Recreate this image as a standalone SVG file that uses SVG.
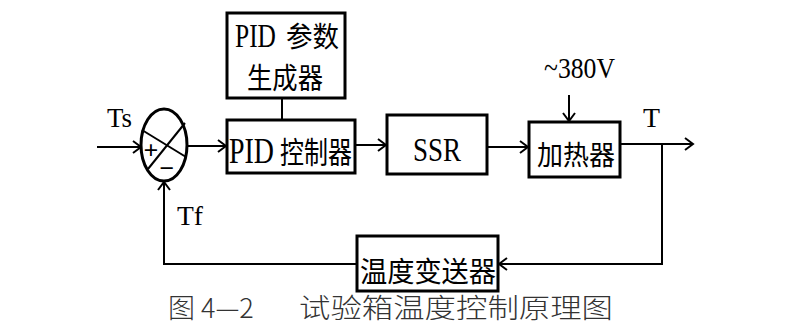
<svg xmlns="http://www.w3.org/2000/svg" width="800" height="331" viewBox="0 0 800 331">
<style>
.box{fill:#fff;stroke:#000;stroke-width:3}
.ln{fill:none;stroke:#000;stroke-width:2}
.t{font-family:"Liberation Serif","Noto Sans CJK SC",serif;fill:#000}
.cap{font-family:"Noto Sans CJK SC",sans-serif;font-weight:300;fill:#333;font-size:27px}
</style>
<defs>
<marker id="ah" markerUnits="userSpaceOnUse" markerWidth="14" markerHeight="14" refX="11" refY="7" orient="auto">
<path d="M3,1 L11,7 L3,13" fill="none" stroke="#000" stroke-width="2"/>
</marker>
</defs>
<rect width="800" height="331" fill="#fff"/>
<g id="connectors">
<line class="ln" x1="97" y1="147" x2="141" y2="147" marker-end="url(#ah)"/>
<line class="ln" x1="187" y1="146" x2="226" y2="146" marker-end="url(#ah)"/>
<line class="ln" x1="282" y1="98" x2="282" y2="120"/>
<line class="ln" x1="355" y1="145" x2="386" y2="145" marker-end="url(#ah)"/>
<line class="ln" x1="487" y1="147" x2="528" y2="147" marker-end="url(#ah)"/>
<line class="ln" x1="569" y1="95" x2="569" y2="121" marker-end="url(#ah)"/>
<line class="ln" x1="620" y1="144" x2="693" y2="144" marker-end="url(#ah)"/>
<polyline class="ln" points="662,144 662,264 499,264" marker-end="url(#ah)"/>
<polyline class="ln" points="356,264 164,264 164,182" marker-end="url(#ah)"/>
</g>
<g id="sum">
<ellipse cx="164" cy="145" rx="23" ry="36" fill="#fff" stroke="#000" stroke-width="3"/>
<line class="ln" x1="142" y1="130" x2="186" y2="157"/>
<line class="ln" x1="185" y1="123" x2="148" y2="169"/>
<text class="t" x="151" y="159" font-size="26" font-weight="bold" text-anchor="middle">+</text>
<text class="t" x="167" y="177" font-size="26" font-weight="bold" text-anchor="middle">−</text>
</g>
<g id="labels">
<text class="t" x="107" y="127" font-size="28" textLength="25" lengthAdjust="spacingAndGlyphs">Ts</text>
<text class="t" x="177" y="225" font-size="28" textLength="26" lengthAdjust="spacingAndGlyphs">Tf</text>
<text class="t" x="643" y="127" font-size="28" textLength="17" lengthAdjust="spacingAndGlyphs">T</text>
<text class="t" x="544" y="78" font-size="30" textLength="71" lengthAdjust="spacingAndGlyphs">~380V</text>
</g>
<g id="pidparam">
<rect class="box" x="227" y="13" width="118" height="85"/>
<text class="t" x="235" y="47" font-size="34" textLength="41" lengthAdjust="spacingAndGlyphs">PID</text>
<text class="t" x="286" y="47" font-size="28" textLength="53" lengthAdjust="spacingAndGlyphs">参数</text>
<text class="t" x="247" y="89" font-size="29" textLength="76" lengthAdjust="spacingAndGlyphs">生成器</text>
</g>
<g id="pid">
<rect class="box" x="227" y="120" width="128" height="53"/>
<text class="t" x="229" y="163" font-size="35" textLength="45" lengthAdjust="spacingAndGlyphs">PID</text>
<text class="t" x="280" y="163" font-size="30" textLength="72" lengthAdjust="spacingAndGlyphs">控制器</text>
</g>
<g id="ssr">
<rect class="box" x="387" y="115" width="100" height="59"/>
<text class="t" x="413" y="161" font-size="33" textLength="48" lengthAdjust="spacingAndGlyphs">SSR</text>
</g>
<g id="heater">
<rect class="box" x="529" y="122" width="91" height="55"/>
<text class="t" x="537" y="165" font-size="27" textLength="78" lengthAdjust="spacingAndGlyphs">加热器</text>
</g>
<g id="transmitter">
<rect class="box" x="357" y="236" width="141" height="55"/>
<text class="t" x="360" y="282" font-size="28" textLength="136" lengthAdjust="spacingAndGlyphs">温度变送器</text>
</g>
<g id="caption">
<text class="cap" x="168" y="318">图 4—2</text>
<text class="cap" x="299" y="318" textLength="314" lengthAdjust="spacingAndGlyphs">试验箱温度控制原理图</text>
</g>
</svg>
